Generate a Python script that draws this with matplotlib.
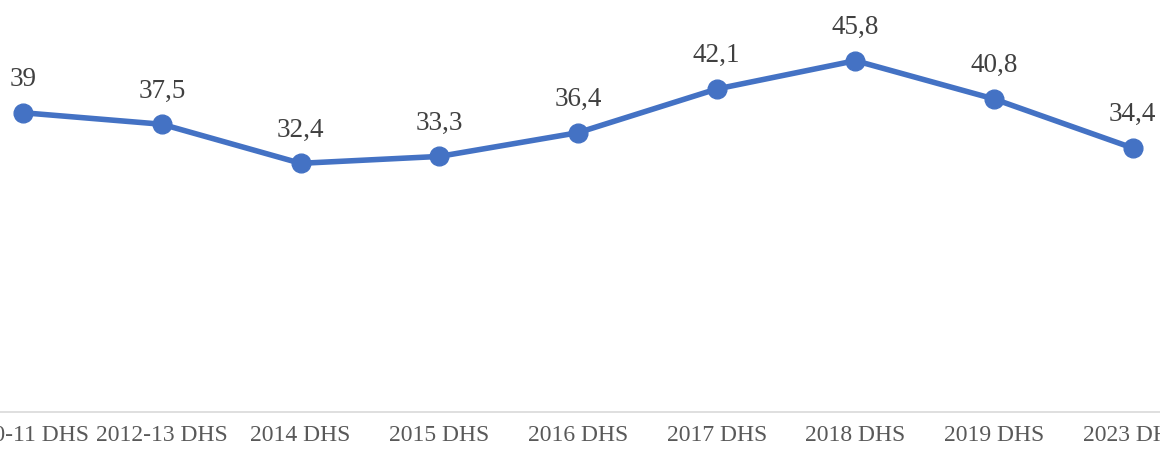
import matplotlib.pyplot as plt

# Categorías y valores
encuestas = ["2010-11 DHS", "2012-13 DHS", "2014 DHS", "2015 DHS", "2016 DHS",
             "2017 DHS", "2018 DHS", "2019 DHS", "2023 DHS"]
valores = [39, 37.5, 32.4, 33.3, 36.4, 42.1, 45.8, 40.8, 34.4]
etiquetas = ["39", "37,5", "32,4", "33,3", "36,4", "42,1", "45,8", "40,8", "34,4"]

plt.rcParams['font.family'] = ['Liberation Serif', 'DejaVu Serif']

fig = plt.figure(figsize=(11.6, 4.5), dpi=100)
# el gráfico original está recortado a los lados
ax = fig.add_axes([-46 / 1160, 38.5 / 450, 1248 / 1160, 50 * 7.66 / 450])

x = range(len(encuestas))
ax.plot(x, valores, color='#4472C4', linewidth=4, marker='o', markersize=13.5,
        solid_capstyle='round', zorder=3)

for i, (v, t) in enumerate(zip(valores, etiquetas)):
    ax.annotate(t, (i, v), xytext=(0, 15), textcoords='offset points',
                ha='center', va='bottom', fontsize=19.5, color='#404040')

ax.set_xlim(-0.5, len(encuestas) - 0.5)
ax.set_ylim(0, 50)
ax.set_xticks(list(x))
ax.set_xticklabels(encuestas, fontsize=17, color='#595959')
ax.tick_params(axis='x', length=0, pad=10)
ax.set_yticks([])

for s in ['top', 'right', 'left']:
    ax.spines[s].set_visible(False)
ax.spines['bottom'].set_color('#D9D9D9')
ax.spines['bottom'].set_linewidth(1.2)

fig.savefig('out.png', dpi=100)
